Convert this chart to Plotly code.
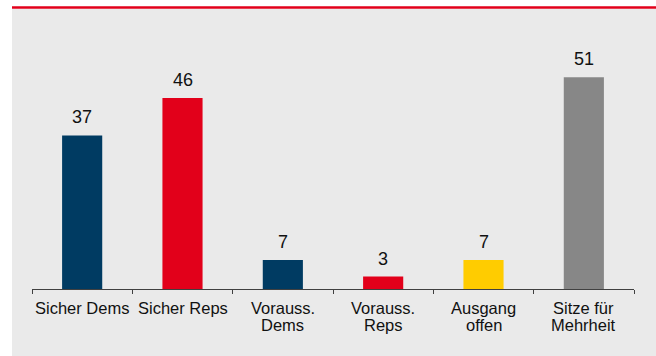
import plotly.graph_objects as go

categories = ["Sicher Dems", "Sicher Reps", "Vorauss.\nDems", "Vorauss.\nReps", "Ausgang\noffen", "Sitze für\nMehrheit"]
values = [37, 46, 7, 3, 7, 51]
bar_colors = ["#003B62", "#E2001A", "#003B62", "#E2001A", "#FFCC00", "#878787"]

W, H = 656, 356
ML, MR, MT, MB = 32, 22, 40, 67
pw, ph = W - ML - MR, H - MT - MB

def px_x(x):
    return (x - ML) / pw

def px_y(y):
    return (H - MB - y) / ph

FONT = "Liberation Sans, Arial, sans-serif"

fig = go.Figure()
fig.add_trace(go.Bar(
    x=list(range(len(categories))),
    y=values,
    marker=dict(color=bar_colors, line=dict(width=0)),
    width=0.4,
    hoverinfo="skip",
))

annotations = []
for i, v in enumerate(values):
    annotations.append(dict(
        x=i, y=v, xref="x", yref="y", text=str(v), showarrow=False,
        yanchor="bottom", yshift=6, font=dict(family=FONT, size=18, color="#111111"),
    ))
for i, c in enumerate(categories):
    for j, line in enumerate(c.split("\n")):
        annotations.append(dict(
            x=i, y=0, xref="x", yref="paper", text=line, showarrow=False,
            yanchor="top", yshift=-8 - 17 * j,
            font=dict(family=FONT, size=16.5, color="#111111"),
        ))

shapes = [
    dict(type="rect", xref="paper", yref="paper", x0=px_x(12), x1=px_x(W + 2),
         y0=px_y(H + 2), y1=px_y(9), fillcolor="#EAEAEA", line=dict(width=0), layer="below"),
    dict(type="line", xref="paper", yref="paper", x0=px_x(12), x1=px_x(W + 2),
         y0=px_y(7.5), y1=px_y(7.5), line=dict(color="#E2001A", width=2.5), layer="below"),
]

fig.update_layout(
    width=W, height=H,
    margin=dict(l=ML, r=MR, t=MT, b=MB, pad=0),
    paper_bgcolor="white",
    plot_bgcolor="rgba(0,0,0,0)",
    showlegend=False,
    bargap=0.6,
    annotations=annotations,
    shapes=shapes,
    font=dict(family=FONT, size=16, color="#111111"),
    xaxis=dict(
        type="linear", range=[-0.5, len(categories) - 0.5],
        tickmode="array", tickvals=[i - 0.5 for i in range(len(categories) + 1)],
        ticktext=[""] * (len(categories) + 1),
        ticks="outside", ticklen=4, tickwidth=1, tickcolor="#404040",
        showline=True, linecolor="#404040", linewidth=1,
        showgrid=False, zeroline=False, showticklabels=False, fixedrange=True,
    ),
    yaxis=dict(
        range=[0, 60], visible=False, showgrid=False, zeroline=False, fixedrange=True,
    ),
)

fig.write_html(
    "out.html",
    config={"displayModeBar": False},
    post_script="document.body.style.margin='0';document.body.style.overflow='hidden';",
)
